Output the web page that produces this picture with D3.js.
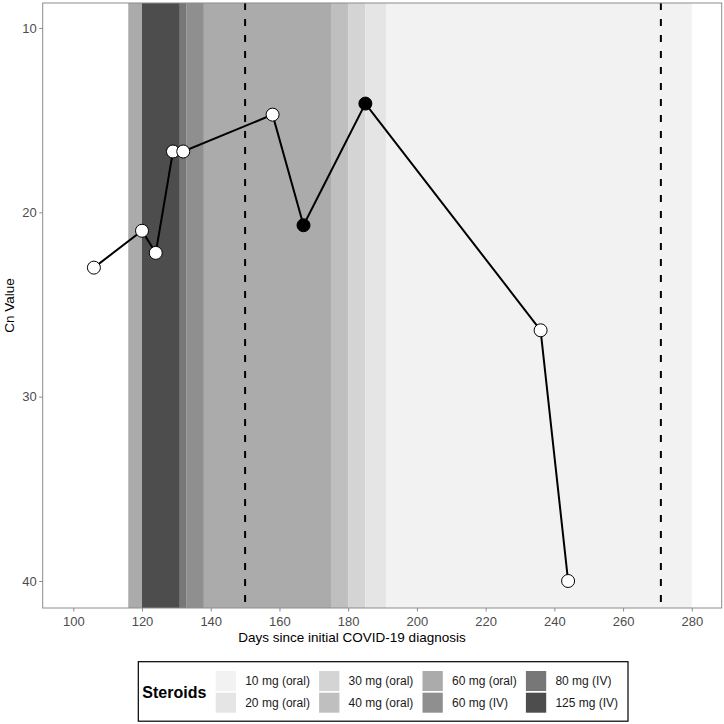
<!DOCTYPE html>
<html>
<head>
<meta charset="utf-8">
<script src="https://cdn.jsdelivr.net/npm/d3@7"></script>
<style>
  body { margin: 0; background: #fff; }
  svg { font-family: "Liberation Sans", Arial, sans-serif; }
</style>
</head>
<body>
<svg id="chart" width="724" height="724"></svg>
<script>
// measurements: days since diagnosis and Cn value
const days = [106, 120, 124, 129, 132, 158, 167, 185, 236, 244];
const cnValues = [23, 21, 22.2, 16.7, 16.7, 14.7, 20.7, 14.1, 26.4, 40];
const filled = [false, false, false, false, false, false, true, true, false, false];

// steroid periods
const bandStart = [116, 120, 131, 133, 138, 175, 180, 185, 191];
const bandEnd = [120, 131, 133, 138, 175, 180, 185, 191, 280];
const bandDose = ["60 mg (oral)", "125 mg (IV)", "80 mg (IV)", "60 mg (IV)", "60 mg (oral)",
  "40 mg (oral)", "30 mg (oral)", "20 mg (oral)", "10 mg (oral)"];

const doses = ["10 mg (oral)", "20 mg (oral)", "30 mg (oral)", "40 mg (oral)",
  "60 mg (oral)", "60 mg (IV)", "80 mg (IV)", "125 mg (IV)"];
const doseColors = ["#f2f2f2", "#e5e5e5", "#d4d4d4", "#bfbfbf", "#ababab", "#8f8f8f", "#777777", "#4d4d4d"];

const dashedDays = [150, 271];
const xTicks = [100, 120, 140, 160, 180, 200, 220, 240, 260, 280];
const yTicks = [10, 20, 30, 40];

const svg = d3.select("#chart");

const pLeft = 42.7, pRight = 721.7, pTop = 3, pBottom = 608;

const x = d3.scaleLinear().domain([91.1, 288.7]).range([pLeft, pRight]);
const y = d3.scaleLinear().domain([8.644, 41.465]).range([pTop, pBottom]);
const color = d3.scaleOrdinal().domain(doses).range(doseColors);

const bands = bandStart.map((s, i) => ({ s, e: bandEnd[i], dose: bandDose[i] }));

svg.append("g")
  .selectAll("rect")
  .data(bands)
  .join("rect")
  .attr("x", d => x(d.s))
  .attr("y", pTop)
  .attr("width", d => x(d.e) - x(d.s))
  .attr("height", pBottom - pTop)
  .attr("fill", d => color(d.dose));

svg.append("g")
  .selectAll("line")
  .data(dashedDays)
  .join("line")
  .attr("x1", d => x(d))
  .attr("x2", d => x(d))
  .attr("y1", pTop)
  .attr("y2", pBottom)
  .attr("stroke", "#000")
  .attr("stroke-width", 2)
  .attr("stroke-dasharray", "7,9");

const points = days.map((d, i) => ({ d, v: cnValues[i], f: filled[i] }));

svg.append("path")
  .datum(points)
  .attr("fill", "none")
  .attr("stroke", "#000")
  .attr("stroke-width", 2)
  .attr("d", d3.line().x(p => x(p.d)).y(p => y(p.v)));

svg.append("g")
  .selectAll("circle")
  .data(points)
  .join("circle")
  .attr("cx", p => x(p.d))
  .attr("cy", p => y(p.v))
  .attr("r", 6.5)
  .attr("fill", p => p.f ? "#000" : "#fff")
  .attr("stroke", "#000")
  .attr("stroke-width", 1);

// panel border
svg.append("rect")
  .attr("x", pLeft).attr("y", pTop)
  .attr("width", pRight - pLeft).attr("height", pBottom - pTop)
  .attr("fill", "none")
  .attr("stroke", "#8c8c8c")
  .attr("stroke-width", 1);

const xAxis = svg.append("g")
  .attr("transform", `translate(0,${pBottom})`)
  .call(d3.axisBottom(x).tickValues(xTicks).tickSize(3.5).tickPadding(5.5));
const yAxis = svg.append("g")
  .attr("transform", `translate(${pLeft},0)`)
  .call(d3.axisLeft(y).tickValues(yTicks).tickSize(3.5).tickPadding(2.5));

[xAxis, yAxis].forEach(a => {
  a.select(".domain").remove();
  a.selectAll(".tick line").attr("stroke", "#8c8c8c");
  a.selectAll(".tick text")
    .attr("fill", "#4d4d4d")
    .style("font-size", "13px")
    .style("font-family", "Liberation Sans, Arial, sans-serif");
});

svg.append("text")
  .attr("x", 352)
  .attr("y", 641.5)
  .attr("text-anchor", "middle")
  .style("font-size", "13.5px")
  .text("Days since initial COVID-19 diagnosis");

svg.append("text")
  .attr("transform", "translate(14,305.5) rotate(-90)")
  .attr("text-anchor", "middle")
  .style("font-size", "13.5px")
  .text("Cn Value");

// legend
const legend = svg.append("g");
legend.append("rect")
  .attr("x", 138.3).attr("y", 661.7)
  .attr("width", 489.7).attr("height", 59.5)
  .attr("fill", "#fff")
  .attr("stroke", "#000")
  .attr("stroke-width", 1.2);

legend.append("text")
  .attr("x", 142.3)
  .attr("y", 697.5)
  .style("font-size", "16px")
  .style("font-weight", "bold")
  .text("Steroids");

const items = legend.selectAll("g.item")
  .data(doses)
  .join("g")
  .attr("class", "item")
  .attr("transform", (d, i) => `translate(${215.7 + Math.floor(i / 2) * 103.4},${i % 2 === 0 ? 671 : 692.7})`);

items.append("rect")
  .attr("width", 20.3)
  .attr("height", 20)
  .attr("fill", d => color(d));

items.append("text")
  .attr("x", 29.5)
  .attr("y", 14.3)
  .style("font-size", "12px")
  .attr("fill", "#1a1a1a")
  .text(d => d);
</script>
</body>
</html>
